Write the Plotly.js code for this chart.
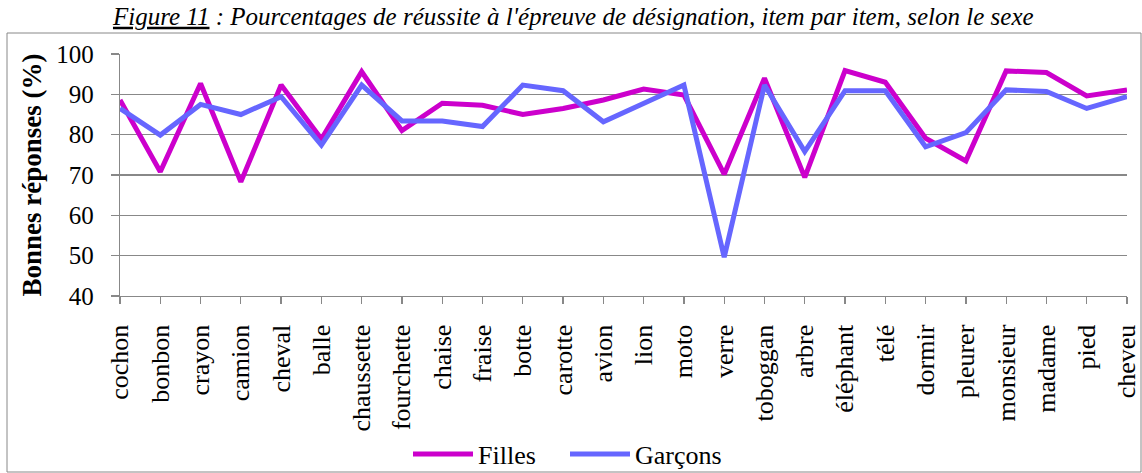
<!DOCTYPE html>
<html>
<head>
<meta charset="utf-8">
<script src="https://cdn.plot.ly/plotly-3.0.1.min.js"></script>
<style>
html,body{margin:0;padding:0;background:#fff;}
#chart{width:1142px;height:473px;}
#chart text{font-family:"Liberation Serif", "Times New Roman", serif !important;}
</style>
</head>
<body>
<div id="chart"></div>
<script>
const categories = ["cochon","bonbon","crayon","camion","cheval","balle","chaussette","fourchette","chaise","fraise","botte","carotte","avion","lion","moto","verre","toboggan","arbre","éléphant","télé","dormir","pleurer","monsieur","madame","pied","cheveu"];
const filles = [88.6,70.8,92.7,68.3,92.3,78.9,95.6,81.0,87.8,87.3,85.0,86.5,88.6,91.3,89.8,70.2,94.0,69.4,95.9,93.0,79.1,73.5,95.8,95.4,89.6,91.1];
const garcons = [86.5,79.9,87.5,85.0,89.4,77.4,92.3,83.4,83.4,82.0,92.3,90.9,83.2,87.8,92.3,49.6,92.3,75.8,90.9,90.9,77.0,80.5,91.1,90.7,86.5,89.4];
const yTicks = [40,50,60,70,80,90,100];
const titleText = "<i><u>Figure 11</u> : Pourcentages de réussite à l'épreuve de désignation, item par item, selon le sexe</i>";
const yTitle = "<b>Bonnes réponses (%)</b>";

const font = "Liberation Serif";
const traces = [
  {x: categories, y: filles, name: "Filles", type: "scatter", mode: "lines",
   line: {color: "#CC00CC", width: 5}},
  {x: categories, y: garcons, name: "Garçons", type: "scatter", mode: "lines",
   line: {color: "#6666FF", width: 5}}
];
const L = 120, R = 15, T = 54, B = 177, W = 1142, H = 473;
const pw = W - L - R, ph = H - T - B;
const px = v => (v - L) / pw;
const py = v => (H - B - v) / ph;
const layout = {
  width: W, height: H,
  margin: {l: L, r: R, t: T, b: B, autoexpand: false},
  paper_bgcolor: "#fff", plot_bgcolor: "#fff",
  font: {family: font, color: "#000", size: 24},
  showlegend: true,
  title: {text: titleText, font: {family: font, size: 25, color: "#000"},
          x: 0.502, xref: "container", xanchor: "center", y: 1 - 16/H, yref: "container", yanchor: "middle",
          pad: {t: 0, b: 0, l: 0, r: 0}},
  xaxis: {type: "category", range: [0, categories.length - 1], tickangle: -90,
          ticks: "outside", ticklen: 7, tickcolor: "#888", tickwidth: 1.3,
          showgrid: false, showline: true, linecolor: "#888", linewidth: 1.3, ticklabelstandoff: 10,
          tickfont: {family: font, size: 26, color: "#000"}, fixedrange: true, automargin: false},
  yaxis: {range: [40, 100], tickvals: yTicks, ticks: "outside", ticklen: 8, tickcolor: "#888", tickwidth: 1.3,
          showgrid: true, gridcolor: "#888", gridwidth: 1.3, zeroline: false,
          showline: true, linecolor: "#888", linewidth: 1.3, ticklabelstandoff: 12,
          tickfont: {family: font, size: 25, color: "#000"}, automargin: false,
          title: {text: yTitle, font: {family: font, size: 27, color: "#000"}, standoff: 6}},
  legend: {orientation: "h", x: px(565), xanchor: "center", y: py(454), yanchor: "middle",
           font: {family: font, size: 26, color: "#000"}, bgcolor: "rgba(0,0,0,0)",
           entrywidth: 82, entrywidthmode: "pixels", itemwidth: 60, tracegroupgap: 0, borderwidth: 0},
  shapes: [{type: "rect", xref: "paper", yref: "paper", x0: px(7), x1: px(1141), y0: py(472), y1: py(33),
            line: {color: "#888", width: 1}, layer: "below"}]
};
Plotly.newPlot("chart", traces, layout, {displayModeBar: false, staticPlot: true});
</script>
</body>
</html>
